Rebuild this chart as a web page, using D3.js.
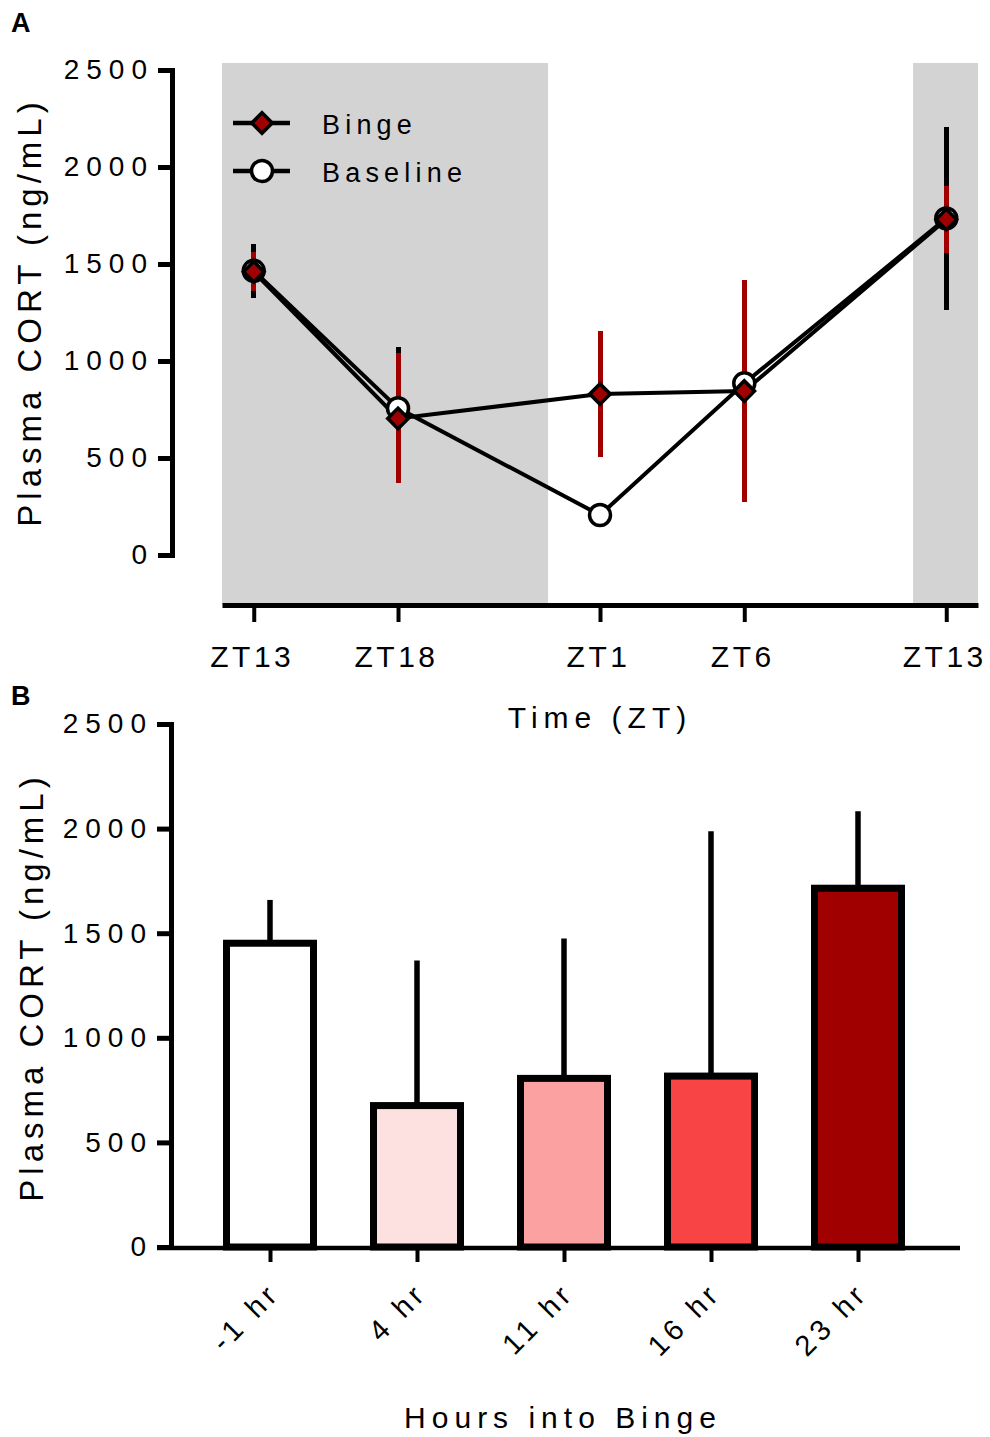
<!DOCTYPE html>
<html>
<head>
<meta charset="utf-8">
<script src="https://cdn.jsdelivr.net/npm/d3@7"></script>
<style>
  body { margin: 0; background: #fff; }
  text { font-family: "Liberation Sans", Arial, sans-serif; fill: #000; }
</style>
</head>
<body>
<svg id="chart" width="990" height="1437"></svg>
<script>
// Panel A data (hours after ZT13)
var timeHours = [0, 5, 12, 17, 24];
var timeLabels = ["ZT13", "ZT18", "ZT1", "ZT6", "ZT13"];
var bingeMean = [1460, 704, 830, 845, 1730];
var bingeSem = [100, 335, 325, 574, 172];
var baselineMean = [1465, 757, 206, 885, 1735];
var baselineSem = [138, 317, 30, 350, 470];
var darkPhases = [[-1.1, 10.2], [22.85, 25.1]];
var yTicks = [0, 500, 1000, 1500, 2000, 2500];

// Panel B data
var hourLabels = ["-1 hr", "4 hr", "11 hr", "16 hr", "23 hr"];
var barMean = [1452, 676, 806, 817, 1715];
var barSem = [207, 693, 669, 1170, 368];
var barColors = ["#ffffff", "#fde0e0", "#fca1a1", "#f84444", "#a00000"];

var red = "#a00000";
var svg = d3.select("#chart");
svg.append("rect").attr("width", 990).attr("height", 1437).attr("fill", "#fff");

// ---------- Panel A ----------
var xA = d3.scaleLinear().domain([-1.1, 25.1]).range([222, 978]);
var yA = d3.scaleLinear().domain([0, 2500]).range([555, 70]);

svg.selectAll(".night").data(darkPhases).enter().append("rect")
  .attr("x", function(d) { return xA(d[0]); })
  .attr("width", function(d) { return xA(d[1]) - xA(d[0]); })
  .attr("y", 63).attr("height", 605 - 63)
  .attr("fill", "#d3d3d3");

var axA = svg.append("g")
  .attr("transform", "translate(172,0)")
  .call(d3.axisLeft(yA).tickValues(yTicks).tickFormat(d3.format("d"))
    .tickSize(14).tickSizeOuter(0).tickPadding(10));
axA.attr("font-size", 28).attr("font-family", null);
axA.select(".domain").attr("stroke-width", 5).attr("stroke-linecap", "square");
axA.selectAll(".tick line").attr("stroke-width", 5);
axA.selectAll(".tick text").attr("letter-spacing", 7).attr("dx", 6);

var axAx = svg.append("g")
  .attr("transform", "translate(0,605)")
  .call(d3.axisBottom(xA).tickValues(timeHours).tickSize(17).tickSizeOuter(0).tickPadding(24)
    .tickFormat(function(d) { return timeLabels[timeHours.indexOf(d)]; }));
axAx.attr("font-size", 30).attr("font-family", null);
axAx.select(".domain").attr("stroke-width", 5);
axAx.selectAll(".tick line").attr("stroke-width", 4);
axAx.selectAll(".tick text").attr("letter-spacing", 3.5).attr("dx", -2);

// error bars
var errStroke = 5;
svg.selectAll(".errBase").data(baselineMean).enter().append("line")
  .attr("x1", function(d, i) { return xA(timeHours[i]); })
  .attr("x2", function(d, i) { return xA(timeHours[i]); })
  .attr("y1", function(d, i) { return yA(d - baselineSem[i]); })
  .attr("y2", function(d, i) { return yA(d + baselineSem[i]); })
  .attr("stroke", "#000").attr("stroke-width", errStroke)
  .attr("shape-rendering", "crispEdges");
svg.selectAll(".errBinge").data(bingeMean).enter().append("line")
  .attr("x1", function(d, i) { return xA(timeHours[i]); })
  .attr("x2", function(d, i) { return xA(timeHours[i]); })
  .attr("y1", function(d, i) { return yA(d - bingeSem[i]); })
  .attr("y2", function(d, i) { return yA(d + bingeSem[i]); })
  .attr("stroke", red).attr("stroke-width", errStroke)
  .attr("shape-rendering", "crispEdges");

var line = d3.line()
  .x(function(d, i) { return xA(timeHours[i]); })
  .y(function(d) { return yA(d); });
svg.append("path").datum(baselineMean).attr("d", line)
  .attr("fill", "none").attr("stroke", "#000").attr("stroke-width", 4);
svg.append("path").datum(bingeMean).attr("d", line)
  .attr("fill", "none").attr("stroke", "#000").attr("stroke-width", 4);

var diamond = d3.symbol().type(d3.symbolSquare).size(210);

svg.selectAll(".ptBase").data(baselineMean).enter().append("circle")
  .attr("cx", function(d, i) { return xA(timeHours[i]); })
  .attr("cy", function(d) { return yA(d); })
  .attr("r", 10.5).attr("fill", "#fff").attr("stroke", "#000").attr("stroke-width", 3.5);
svg.selectAll(".ptBinge").data(bingeMean).enter().append("path")
  .attr("d", diamond)
  .attr("transform", function(d, i) { return "translate(" + xA(timeHours[i]) + "," + yA(d) + ") rotate(45)"; })
  .attr("fill", red).attr("stroke", "#000").attr("stroke-width", 3.5);

// legend
var legend = [["Binge", 123], ["Baseline", 171]];
legend.forEach(function(l, i) {
  svg.append("line").attr("x1", 233).attr("x2", 290).attr("y1", l[1]).attr("y2", l[1])
    .attr("stroke", "#000").attr("stroke-width", 4.5);
  if (i === 0) {
    svg.append("path").attr("d", diamond)
      .attr("transform", "translate(262," + l[1] + ") rotate(45)")
      .attr("fill", red).attr("stroke", "#000").attr("stroke-width", 3.5);
  } else {
    svg.append("circle").attr("cx", 262).attr("cy", l[1]).attr("r", 10.5)
      .attr("fill", "#fff").attr("stroke", "#000").attr("stroke-width", 3.5);
  }
  svg.append("text").attr("x", 322).attr("y", l[1] + 11)
    .attr("font-size", 27).attr("letter-spacing", 5.2).text(l[0]);
});

svg.append("text").attr("transform", "translate(41,312) rotate(-90)")
  .attr("text-anchor", "middle").attr("font-size", 33).attr("letter-spacing", 5)
  .text("Plasma CORT (ng/mL)");
svg.append("text").attr("x", 600).attr("y", 728).attr("text-anchor", "middle")
  .attr("font-size", 30).attr("letter-spacing", 6).text("Time (ZT)");
svg.append("text").attr("x", 11).attr("y", 32).attr("font-size", 27)
  .attr("font-weight", "bold").text("A");

// ---------- Panel B ----------
var xB = d3.scalePoint().domain(hourLabels).range([270, 858]);
var yB = d3.scaleLinear().domain([0, 2500]).range([1247, 724]);
var barW = 87;

svg.selectAll(".errB").data(barMean).enter().append("line")
  .attr("x1", function(d, i) { return xB(hourLabels[i]); })
  .attr("x2", function(d, i) { return xB(hourLabels[i]); })
  .attr("y1", function(d) { return yB(d); })
  .attr("y2", function(d, i) { return yB(d + barSem[i]); })
  .attr("stroke", "#000").attr("stroke-width", 5.5);

svg.selectAll(".bar").data(barMean).enter().append("rect")
  .attr("x", function(d, i) { return xB(hourLabels[i]) - barW / 2; })
  .attr("y", function(d) { return yB(d); })
  .attr("width", barW)
  .attr("height", function(d) { return yB(0) - yB(d); })
  .attr("fill", function(d, i) { return barColors[i]; })
  .attr("stroke", "#000").attr("stroke-width", 7);

var axB = svg.append("g")
  .attr("transform", "translate(171,0)")
  .call(d3.axisLeft(yB).tickValues(yTicks).tickFormat(d3.format("d"))
    .tickSize(14).tickSizeOuter(0).tickPadding(10));
axB.attr("font-size", 28).attr("font-family", null);
axB.select(".domain").attr("stroke-width", 5).attr("stroke-linecap", "square");
axB.selectAll(".tick line").attr("stroke-width", 5);
axB.selectAll(".tick text").attr("letter-spacing", 7).attr("dx", 6);

svg.append("line").attr("x1", 157).attr("x2", 960).attr("y1", 1248).attr("y2", 1248)
  .attr("stroke", "#000").attr("stroke-width", 4.5);
var axBx = svg.append("g")
  .attr("transform", "translate(0,1248)")
  .call(d3.axisBottom(xB).tickSize(14).tickSizeOuter(0));
axBx.attr("font-size", 29).attr("font-family", null);
axBx.select(".domain").remove();
axBx.selectAll(".tick line").attr("stroke-width", 4);
axBx.selectAll(".tick text")
  .attr("x", 0).attr("y", 0).attr("dy", 0)
  .attr("text-anchor", "end").attr("letter-spacing", 4.5)
  .attr("transform", "translate(11,47) rotate(-45)");

svg.append("text").attr("transform", "translate(43,987) rotate(-90)")
  .attr("text-anchor", "middle").attr("font-size", 33).attr("letter-spacing", 5)
  .text("Plasma CORT (ng/mL)");
svg.append("text").attr("x", 563).attr("y", 1428).attr("text-anchor", "middle")
  .attr("font-size", 30).attr("letter-spacing", 6).text("Hours into Binge");
svg.append("text").attr("x", 11).attr("y", 705).attr("font-size", 27)
  .attr("font-weight", "bold").text("B");
</script>
</body>
</html>
